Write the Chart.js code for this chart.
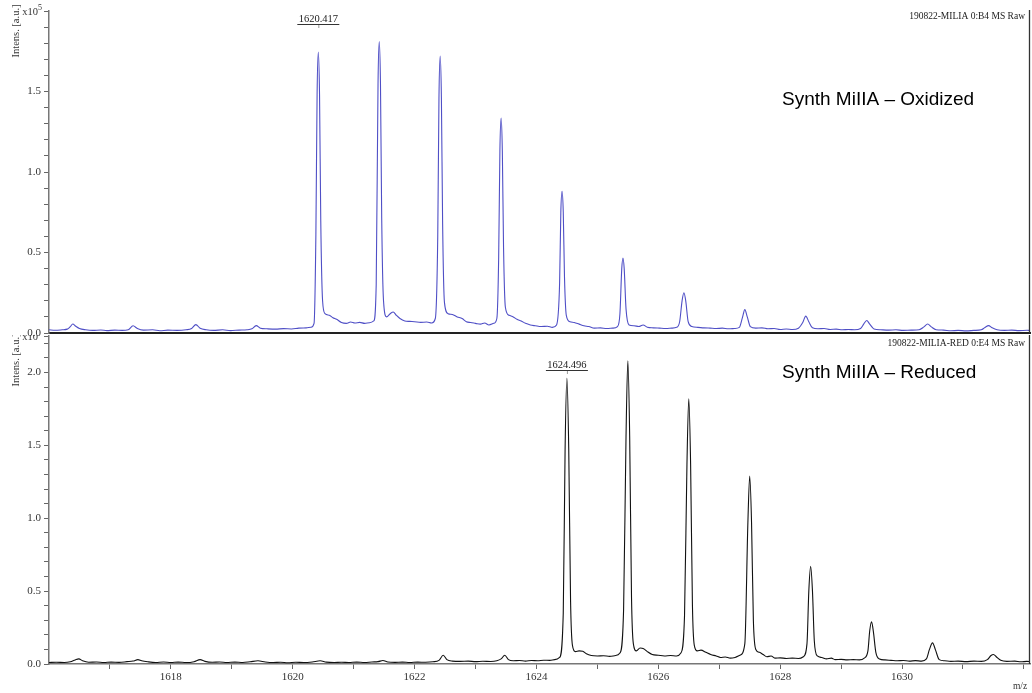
<!DOCTYPE html>
<html><head><meta charset="utf-8">
<script src="https://cdn.jsdelivr.net/npm/chart.js@4"></script>
<style>
html,body{margin:0;padding:0;background:#fff;width:1032px;height:693px;overflow:hidden}
#p1{position:absolute;left:0;top:0;width:1032px;height:336px}
#p2{position:absolute;left:0;top:335px;width:1032px;height:358px}
</style></head><body>
<div id="p1"><canvas id="c1"></canvas></div>
<div id="p2"><canvas id="c2"></canvas></div>
<script>
// ---------- DATA ----------
const oxMz = [1616.00,1616.10,1616.22,1616.30,1616.35,1616.39,1616.44,1616.50,1616.60,1616.72,1616.85,1616.95,1617.08,1617.20,1617.30,1617.38,1617.45,1617.55,1617.70,1617.82,1617.95,1618.10,1618.25,1618.34,1618.41,1618.48,1618.58,1618.70,1618.85,1618.98,1619.12,1619.25,1619.33,1619.40,1619.47,1619.58,1619.72,1619.85,1619.98,1620.10,1620.22,1620.30,1620.35,1620.38,1620.40,1620.42,1620.44,1620.46,1620.49,1620.53,1620.60,1620.66,1620.72,1620.80,1620.88,1620.95,1621.02,1621.10,1621.18,1621.26,1621.33,1621.37,1621.40,1621.42,1621.44,1621.46,1621.49,1621.54,1621.60,1621.65,1621.70,1621.76,1621.84,1621.92,1622.00,1622.10,1622.20,1622.28,1622.34,1622.38,1622.40,1622.42,1622.44,1622.46,1622.49,1622.55,1622.62,1622.70,1622.78,1622.85,1622.92,1623.00,1623.08,1623.15,1623.22,1623.30,1623.35,1623.38,1623.40,1623.42,1623.44,1623.46,1623.49,1623.55,1623.62,1623.68,1623.75,1623.82,1623.90,1623.98,1624.08,1624.18,1624.26,1624.33,1624.38,1624.40,1624.42,1624.44,1624.46,1624.49,1624.55,1624.62,1624.70,1624.78,1624.86,1624.95,1625.05,1625.15,1625.25,1625.33,1625.37,1625.40,1625.42,1625.44,1625.47,1625.52,1625.60,1625.68,1625.75,1625.82,1625.92,1626.02,1626.12,1626.22,1626.30,1626.35,1626.39,1626.42,1626.45,1626.49,1626.55,1626.65,1626.75,1626.85,1626.95,1627.05,1627.15,1627.25,1627.33,1627.38,1627.42,1627.46,1627.51,1627.60,1627.70,1627.80,1627.90,1628.00,1628.10,1628.20,1628.30,1628.37,1628.42,1628.47,1628.53,1628.62,1628.72,1628.82,1628.92,1629.02,1629.12,1629.22,1629.32,1629.37,1629.42,1629.47,1629.54,1629.65,1629.78,1629.90,1630.02,1630.15,1630.28,1630.36,1630.42,1630.48,1630.56,1630.68,1630.80,1630.92,1631.05,1631.18,1631.30,1631.36,1631.42,1631.48,1631.56,1631.68,1631.80,1631.92,1632.05,1632.10];
const oxInt = [0.020,0.017,0.020,0.024,0.040,0.056,0.042,0.028,0.020,0.016,0.019,0.015,0.018,0.016,0.020,0.045,0.028,0.018,0.020,0.014,0.018,0.016,0.020,0.028,0.052,0.030,0.020,0.016,0.020,0.015,0.018,0.020,0.026,0.046,0.030,0.026,0.024,0.027,0.025,0.030,0.032,0.036,0.060,0.61,1.48,1.745,1.48,0.70,0.20,0.12,0.11,0.095,0.085,0.065,0.060,0.068,0.062,0.066,0.060,0.064,0.075,0.30,1.55,1.81,1.55,0.72,0.20,0.10,0.12,0.13,0.11,0.09,0.075,0.072,0.070,0.066,0.068,0.062,0.09,0.60,1.46,1.72,1.46,0.68,0.19,0.12,0.115,0.10,0.09,0.07,0.065,0.060,0.055,0.062,0.050,0.060,0.09,0.47,1.13,1.335,1.13,0.53,0.16,0.11,0.10,0.085,0.075,0.060,0.050,0.045,0.040,0.042,0.035,0.050,0.31,0.75,0.88,0.75,0.35,0.11,0.070,0.065,0.055,0.045,0.040,0.030,0.032,0.028,0.030,0.040,0.12,0.40,0.466,0.40,0.15,0.050,0.045,0.040,0.050,0.036,0.032,0.030,0.028,0.030,0.035,0.070,0.20,0.25,0.20,0.07,0.040,0.035,0.032,0.030,0.028,0.030,0.026,0.028,0.035,0.095,0.145,0.100,0.040,0.030,0.032,0.026,0.028,0.022,0.025,0.022,0.030,0.065,0.105,0.070,0.032,0.026,0.028,0.022,0.024,0.020,0.022,0.020,0.028,0.055,0.078,0.055,0.025,0.020,0.018,0.020,0.016,0.018,0.020,0.038,0.056,0.038,0.020,0.018,0.014,0.016,0.013,0.016,0.020,0.034,0.046,0.032,0.020,0.016,0.018,0.015,0.017,0.016];

const redMz = [1616.00,1616.12,1616.25,1616.35,1616.43,1616.49,1616.55,1616.65,1616.78,1616.90,1617.02,1617.15,1617.28,1617.38,1617.46,1617.52,1617.62,1617.75,1617.88,1618.00,1618.12,1618.25,1618.38,1618.48,1618.56,1618.68,1618.80,1618.92,1619.05,1619.18,1619.30,1619.43,1619.55,1619.68,1619.80,1619.92,1620.05,1620.18,1620.32,1620.45,1620.55,1620.68,1620.80,1620.92,1621.05,1621.18,1621.30,1621.40,1621.48,1621.56,1621.68,1621.80,1621.92,1622.05,1622.18,1622.30,1622.40,1622.47,1622.53,1622.62,1622.75,1622.88,1623.00,1623.12,1623.25,1623.35,1623.42,1623.48,1623.54,1623.62,1623.72,1623.82,1623.92,1624.02,1624.12,1624.22,1624.30,1624.38,1624.44,1624.47,1624.50,1624.53,1624.56,1624.59,1624.64,1624.70,1624.76,1624.82,1624.90,1625.00,1625.10,1625.20,1625.30,1625.37,1625.43,1625.47,1625.50,1625.53,1625.56,1625.59,1625.64,1625.70,1625.76,1625.82,1625.90,1626.00,1626.10,1626.20,1626.30,1626.37,1626.43,1626.47,1626.50,1626.53,1626.56,1626.59,1626.64,1626.70,1626.78,1626.86,1626.95,1627.02,1627.10,1627.18,1627.26,1627.34,1627.42,1627.47,1627.50,1627.53,1627.56,1627.60,1627.66,1627.72,1627.78,1627.85,1627.92,1628.00,1628.10,1628.20,1628.30,1628.38,1628.44,1628.47,1628.50,1628.53,1628.56,1628.61,1628.68,1628.76,1628.84,1628.90,1629.00,1629.10,1629.20,1629.30,1629.38,1629.44,1629.47,1629.50,1629.53,1629.57,1629.63,1629.72,1629.82,1629.92,1630.02,1630.12,1630.22,1630.32,1630.40,1630.45,1630.50,1630.55,1630.61,1630.70,1630.80,1630.92,1631.05,1631.18,1631.30,1631.40,1631.46,1631.50,1631.55,1631.62,1631.72,1631.85,1631.95,1632.05,1632.10];
const redInt = [0.010,0.012,0.010,0.015,0.028,0.035,0.022,0.012,0.014,0.010,0.013,0.011,0.016,0.020,0.030,0.022,0.015,0.010,0.014,0.010,0.013,0.010,0.016,0.030,0.018,0.012,0.014,0.010,0.013,0.010,0.015,0.022,0.014,0.010,0.012,0.009,0.012,0.010,0.014,0.022,0.013,0.010,0.012,0.010,0.013,0.010,0.014,0.016,0.024,0.014,0.011,0.013,0.010,0.013,0.012,0.015,0.025,0.060,0.030,0.020,0.018,0.020,0.016,0.019,0.017,0.022,0.035,0.060,0.030,0.022,0.024,0.020,0.024,0.022,0.026,0.025,0.030,0.045,0.35,1.47,1.96,1.47,0.43,0.13,0.085,0.090,0.088,0.070,0.058,0.055,0.057,0.052,0.058,0.075,0.37,1.56,2.08,1.56,0.46,0.14,0.090,0.11,0.105,0.085,0.065,0.060,0.055,0.058,0.055,0.075,0.33,1.37,1.82,1.37,0.40,0.13,0.090,0.095,0.080,0.065,0.055,0.045,0.048,0.040,0.045,0.060,0.14,0.97,1.29,0.97,0.30,0.10,0.080,0.065,0.050,0.055,0.040,0.042,0.038,0.040,0.038,0.050,0.14,0.50,0.67,0.50,0.16,0.055,0.045,0.035,0.040,0.030,0.032,0.028,0.030,0.028,0.040,0.09,0.23,0.29,0.22,0.08,0.035,0.028,0.025,0.022,0.024,0.020,0.023,0.020,0.035,0.10,0.145,0.095,0.030,0.022,0.018,0.020,0.016,0.020,0.018,0.030,0.058,0.065,0.048,0.025,0.018,0.020,0.015,0.018,0.016];

const xTicks = [1617,1618,1619,1620,1621,1622,1623,1624,1625,1626,1627,1628,1629,1630,1631,1632];
const xLabels = [1618,1620,1622,1624,1626,1628,1630];
const topYTicks = [0,0.1,0.2,0.3,0.4,0.5,0.6,0.7,0.8,0.9,1.0,1.1,1.2,1.3,1.4,1.5,1.6,1.7,1.8,1.9,2.0];
const topYLabelVals = [0,0.5,1.0,1.5];
const botYTicks = [0,0.1,0.2,0.3,0.4,0.5,0.6,0.7,0.8,0.9,1.0,1.1,1.2,1.3,1.4,1.5,1.6,1.7,1.8,1.9,2.0,2.1,2.2,2.25];
const botYLabelVals = [0,0.5,1.0,1.5,2.0];
const scaleBase = 'x10';
const scaleExp = '5';
const yTitle = 'Intens. [a.u.]';
const xTitle = 'm/z';
const topName = 'Synth MiIIA \u2013 Oxidized';
const botName = 'Synth MiIIA \u2013 Reduced';
const topRaw = '190822-MILIA 0:B4 MS Raw';
const botRaw = '190822-MILIA-RED 0:E4 MS Raw';
const topPeak = {mz: 1620.42, text: '1620.417'};
const botPeak = {mz: 1624.50, text: '1624.496'};

// ---------- DRAWING ----------
const SERIF = '"Liberation Serif", "DejaVu Serif", serif';
const annot = {
  id: 'annot',
  afterDraw(chart, args, o) {
    const {ctx, chartArea: a, scales: {x, y}} = chart;
    ctx.save();
    ctx.strokeStyle = '#333'; ctx.lineWidth = 1.3;
    ctx.beginPath(); ctx.moveTo(a.right - 0.5, a.top - 1); ctx.lineTo(a.right - 0.5, a.bottom); ctx.stroke();
    ctx.restore();

    // axis exponent label at top tick
    ctx.save();
    ctx.fillStyle = '#333';
    const ty = y.getPixelForValue(y.max);
    ctx.font = '8px ' + SERIF;
    const w5 = ctx.measureText(scaleExp).width;
    ctx.textAlign = 'left'; ctx.textBaseline = 'middle';
    ctx.fillText(scaleExp, 42 - w5, ty - 3);
    ctx.font = '10.5px ' + SERIF; ctx.textAlign = 'right';
    ctx.fillText(scaleBase, 42 - w5, ty + 1);
    ctx.restore();

    ctx.save();
    ctx.fillStyle = '#333'; ctx.font = '10.5px ' + SERIF;
    ctx.translate(16, a.top + o.titleDy); ctx.rotate(-Math.PI / 2);
    ctx.textAlign = 'center'; ctx.textBaseline = 'middle';
    ctx.fillText(yTitle, 0, 0);
    ctx.restore();

    ctx.save();
    ctx.fillStyle = '#222'; ctx.font = '9.5px ' + SERIF;
    ctx.textAlign = 'right'; ctx.textBaseline = 'middle';
    ctx.fillText(o.raw, a.right - 5, a.top + o.rawDy);

    ctx.fillStyle = '#000'; ctx.font = '19px "Liberation Sans", Arial, sans-serif';
    ctx.textAlign = 'left'; ctx.textBaseline = 'middle';
    ctx.fillText(o.name, a.left + 733, a.top + o.nameDy);

    const ds = chart.data.datasets[0].data;
    let best = ds[0];
    ds.forEach(p => { if (Math.abs(p.x - o.peak.mz) < Math.abs(best.x - o.peak.mz)) best = p; });
    const px = x.getPixelForValue(best.x);
    const py = Math.round(y.getPixelForValue(best.y) - o.peakGap);
    ctx.fillStyle = '#222'; ctx.font = '10.5px ' + SERIF;
    ctx.textAlign = 'center'; ctx.textBaseline = 'alphabetic';
    ctx.fillText(o.peak.text, px, py - 2);
    ctx.strokeStyle = '#333'; ctx.lineWidth = 1;
    ctx.beginPath(); ctx.moveTo(px - 21, py + 0.5); ctx.lineTo(px + 21, py + 0.5); ctx.stroke();
    ctx.strokeStyle = '#999';
    ctx.beginPath(); ctx.moveTo(px + 0.5, py + 1); ctx.lineTo(px + 0.5, py + 4); ctx.stroke();

    if (o.xTitle) {
      ctx.fillStyle = '#333'; ctx.font = '9.5px ' + SERIF;
      ctx.textAlign = 'center'; ctx.textBaseline = 'middle';
      ctx.fillText(xTitle, a.right - 10, a.bottom + 22);
    }
    ctx.restore();
  }
};

function fmt(v) { return v.toFixed(1); }

function makeChart(id, mz, inten, color, yTicks, yLabelVals, yMax, cfg) {
  const pts = mz.map((m, i) => ({x: m, y: inten[i]}));
  const isBottom = cfg.bottom;
  return new Chart(document.getElementById(id), {
    type: 'line',
    data: { datasets: [{ data: pts, borderColor: color, borderWidth: 1.1, pointRadius: 0, cubicInterpolationMode: 'monotone', fill: false }] },
    plugins: [annot],
    options: {
      responsive: true, maintainAspectRatio: false, animation: false,
      layout: { padding: cfg.padding },
      plugins: { legend: { display: false }, tooltip: { enabled: false }, annot: cfg.annot },
      scales: {
        x: {
          type: 'linear', min: 1616, max: 1632.1,
          afterBuildTicks: s => { s.ticks = xTicks.map(v => ({value: v})); },
          afterFit: s => { s.height = cfg.xHeight; s.paddingLeft = 0; s.paddingRight = 0; },
          ticks: {
            display: isBottom, autoSkip: false, maxRotation: 0, padding: 2,
            color: '#333', font: { family: SERIF, size: 11 },
            callback: v => xLabels.includes(v) ? String(v) : ''
          },
          grid: { display: isBottom, drawOnChartArea: false, drawTicks: true, tickLength: 5, color: '#666', lineWidth: 1 },
          border: { display: true, color: isBottom ? '#777' : '#222', width: isBottom ? 1.5 : 2 }
        },
        y: {
          type: 'linear', min: 0, max: yMax,
          afterBuildTicks: s => { s.ticks = yTicks.map(v => ({value: v})); },
          afterFit: s => { s.width = 49; s.paddingTop = 0; s.paddingBottom = 0; },
          ticks: {
            autoSkip: false, padding: 3, color: '#333', font: { family: SERIF, size: 11 },
            callback: v => v === yMax ? '' : (yLabelVals.some(l => Math.abs(l - v) < 1e-9) ? fmt(v) : '')
          },
          grid: { drawOnChartArea: false, drawTicks: true, tickLength: 5, color: '#666', lineWidth: 1 },
          border: { display: true, color: '#777', width: 1.5 }
        }
      }
    }
  });
}

makeChart('c1', oxMz, oxInt, '#4f4fc6', topYTicks, topYLabelVals, 2.0, {
  bottom: false, xHeight: 0,
  padding: { top: 11, right: 2, bottom: 3, left: 0 },
  annot: { raw: topRaw, name: topName, peak: topPeak, peakGap: 28, rawDy: 5, nameDy: 89, titleDy: 20, xTitle: false }
});
makeChart('c2', redMz, redInt, '#111111', botYTicks, botYLabelVals, 2.25, {
  bottom: true, xHeight: 27,
  padding: { top: 1, right: 2, bottom: 2, left: 0 },
  annot: { raw: botRaw, name: botName, peak: botPeak, peakGap: 8, rawDy: 7, nameDy: 37, titleDy: 24, xTitle: true }
});
</script>
</body></html>
